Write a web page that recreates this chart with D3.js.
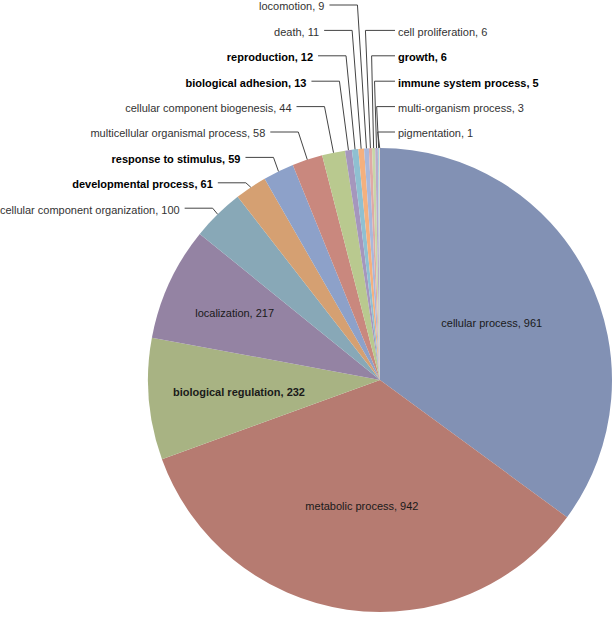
<!DOCTYPE html>
<html>
<head>
<meta charset="utf-8">
<script src="https://cdnjs.cloudflare.com/ajax/libs/d3/7.8.5/d3.min.js"></script>
<style>
  body { margin: 0; background: #fff; }
  svg text { font-family: "Liberation Sans", Arial, sans-serif; font-size: 11px; }
</style>
</head>
<body>
<svg id="chart" width="616" height="617"></svg>
<script>
// GO biological process categories, clockwise from 12 o'clock
var categories = ["cellular process", "metabolic process", "biological regulation", "localization",
  "cellular component organization", "developmental process", "response to stimulus",
  "multicellular organismal process", "cellular component biogenesis", "biological adhesion",
  "reproduction", "death", "locomotion", "cell proliferation", "growth",
  "immune system process", "multi-organism process", "pigmentation"];
var counts = [961, 942, 232, 217, 100, 61, 59, 58, 44, 13, 12, 11, 9, 6, 6, 5, 3, 1];
var boldCats = ["biological regulation", "developmental process", "response to stimulus",
  "biological adhesion", "reproduction", "growth", "immune system process"];
var colors = ["#8291b4", "#b67b71", "#a8b383", "#9483a3", "#88a8b7", "#d5a072", "#8da1c9",
  "#c9887e", "#b9c98f", "#a596bd", "#8fc0d1", "#f4b07e", "#a9b8db", "#dfa9a6", "#c8d6a8",
  "#b9abcc", "#a5d1de", "#f8c9a5"];

var data = categories.map(function(c, i) { return {name: c, value: counts[i]}; });

var svg = d3.select("#chart");
var cx = 380, cy = 380, R = 232;

var pie = d3.pie().sort(null).value(function(d) { return d.value; });
var arc = d3.arc().innerRadius(0).outerRadius(R);
var arcs = pie(data);

var color = d3.scaleOrdinal().domain(categories).range(colors);

var g = svg.append("g").attr("transform", "translate(" + cx + "," + cy + ")");

g.selectAll("path.slice")
  .data(arcs)
  .enter().append("path")
  .attr("class", "slice")
  .attr("d", arc)
  .attr("fill", function(d) { return color(d.data.name); });

function label(d) { return d.data.name + ", " + d.data.value; }
function isBold(d) { return boldCats.indexOf(d.data.name) >= 0; }

// big slices get their label inside
var insideR = {"cellular process": 0.54, "metabolic process": 0.55,
  "biological regulation": 0.61, "localization": 0.69};
var inside = arcs.filter(function(d) { return insideR[d.data.name]; });
g.selectAll("text.inside")
  .data(inside)
  .enter().append("text")
  .attr("class", "inside")
  .attr("x", function(d) { var a = (d.startAngle + d.endAngle) / 2; return Math.sin(a) * R * insideR[d.data.name]; })
  .attr("y", function(d) { var a = (d.startAngle + d.endAngle) / 2; return -Math.cos(a) * R * insideR[d.data.name]; })
  .attr("text-anchor", "middle")
  .attr("dy", "0.35em")
  .attr("fill", "#1a1a1a")
  .attr("font-weight", function(d) { return isBold(d) ? "bold" : null; })
  .text(label);

// small slices: labels outside with leader lines
var outside = arcs.filter(function(d) { return !insideR[d.data.name]; });
var leftSide = outside.filter(function(d) { return d.index <= 12; }).reverse();
var rightSide = outside.filter(function(d) { return d.index > 12; });

var rowY = d3.scaleLinear().domain([0, 1]).range([5, 30.4]);

function arcPt(d) {
  var a = (d.startAngle + d.endAngle) / 2;
  return [cx + Math.sin(a) * R, cy - Math.cos(a) * R];
}

var lines = svg.append("g");
var texts = svg.append("g");

leftSide.forEach(function(d, i) {
  var p = arcPt(d);
  var y = rowY(i);
  var ex = p[0] - (p[1] - y < 20 ? 5 : 9);
  var sx = ex - 28;
  lines.append("polyline")
    .attr("points", [[sx, y], [ex, y], p].map(function(q) { return q.join(","); }).join(" "))
    .attr("fill", "none").attr("stroke", "#444").attr("stroke-width", 1);
  texts.append("text")
    .attr("x", sx - 5).attr("y", y + 1.5)
    .attr("dy", "0.35em")
    .attr("text-anchor", "end")
    .attr("fill", isBold(d) ? "#000" : "#333")
    .attr("font-weight", isBold(d) ? "bold" : null)
    .text(label(d));
});

rightSide.forEach(function(d, i) {
  var p = arcPt(d);
  var y = rowY(i + 1);
  var ex = p[0] - (i === 0 ? 5 : 2);
  var sx = 395;
  lines.append("polyline")
    .attr("points", [[sx, y], [ex, y], p].map(function(q) { return q.join(","); }).join(" "))
    .attr("fill", "none").attr("stroke", "#444").attr("stroke-width", 1);
  texts.append("text")
    .attr("x", sx + 3).attr("y", y + 1.5)
    .attr("dy", "0.35em")
    .attr("fill", isBold(d) ? "#000" : "#333")
    .attr("font-weight", isBold(d) ? "bold" : null)
    .text(label(d));
});
</script>
</body>
</html>
